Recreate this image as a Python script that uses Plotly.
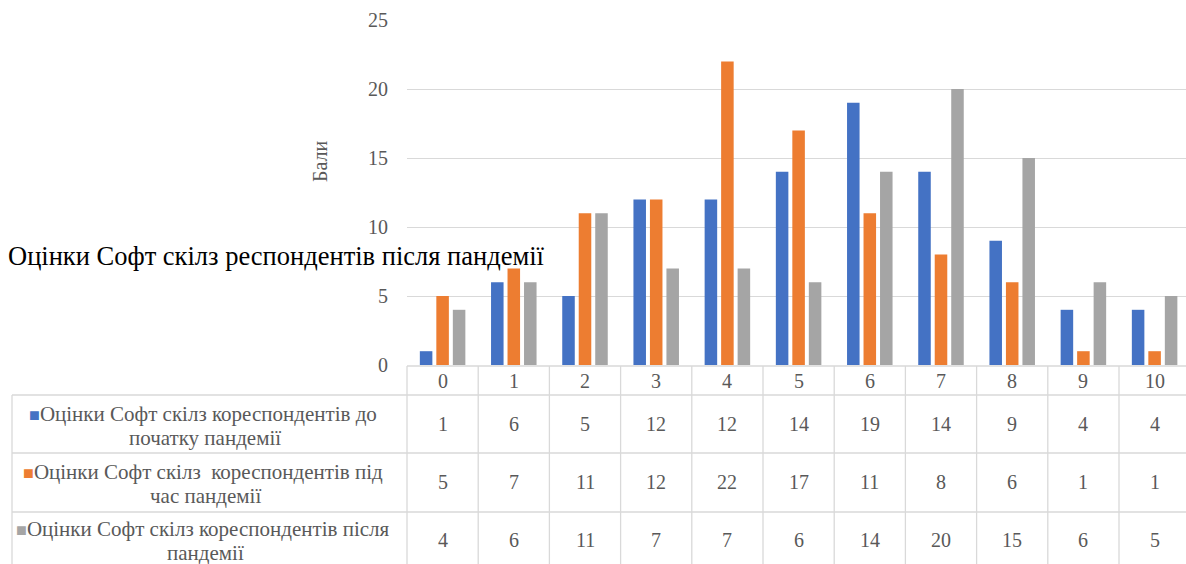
import plotly.graph_objects as go

categories = ["0", "1", "2", "3", "4", "5", "6", "7", "8", "9", "10"]
before = [1, 6, 5, 12, 12, 14, 19, 14, 9, 4, 4]
during = [5, 7, 11, 12, 22, 17, 11, 8, 6, 1, 1]
after = [4, 6, 11, 7, 7, 6, 14, 20, 15, 6, 5]

series_lines = [
    ("Оцінки Софт скілз кореспондентів до", "початку пандемії"),
    ("Оцінки Софт скілз  кореспондентів під", "час пандемії"),
    ("Оцінки Софт скілз кореспондентів після", "пандемії"),
]
series_values = [before, during, after]
colors = ["#4472C4", "#ED7D31", "#A5A5A5"]
y_ticks = [0, 5, 10, 15, 20, 25]
title_text = "Оцінки Софт скілз респондентів після пандемії"
y_title = "Бали"

W, H = 1186, 564
L, T, B = 407, 20, 199
plot_top, plot_bot = T, H - B
col_w = 71.2
x_lo = -0.5
x_hi = x_lo + (W - L) / col_w
FONT = "Liberation Serif"
GRAY = "#595959"
LINE = "#D9D9D9"

def py(ypx):
    return (plot_bot - ypx) / (plot_bot - plot_top)

def pxx(xpx):
    return (xpx - L) / (W - L)

def cat_paper(c):
    return (c - x_lo) / (x_hi - x_lo)

fig = go.Figure()
xs = list(range(len(categories)))
for (l1, l2), vals, col in zip(series_lines, series_values, colors):
    fig.add_trace(go.Bar(x=xs, y=vals, name=l1 + " " + l2, marker=dict(color=col, line=dict(width=0))))

shapes = []
shapes.append(dict(type="line", xref="paper", yref="paper", x0=0, x1=1, y0=py(366), y1=py(366), line=dict(color=LINE, width=1.3)))
for ypx in [395, 453, 512]:
    shapes.append(dict(type="line", xref="paper", yref="paper", x0=pxx(12), x1=1, y0=py(ypx), y1=py(ypx), line=dict(color=LINE, width=1.3)))
shapes.append(dict(type="line", xref="paper", yref="paper", x0=pxx(12), x1=pxx(12), y0=py(395), y1=py(H + 5), line=dict(color=LINE, width=1.3)))
for i in range(len(categories) + 1):
    xp = cat_paper(i - 0.5)
    if xp > 1:
        continue
    shapes.append(dict(type="line", xref="paper", yref="paper", x0=xp, x1=xp, y0=py(366), y1=py(H + 5), line=dict(color=LINE, width=1.3)))

annotations = []
for i, c in enumerate(categories):
    annotations.append(dict(x=i, y=py(381), xref="x", yref="paper", text=c, showarrow=False,
                            font=dict(family=FONT, size=20, color=GRAY), xanchor="center", yanchor="middle"))
row_centers = [424, 482, 540]
line_centers = [(414, 438), (472, 496), (529, 553)]
for r, ((l1, l2), vals, col) in enumerate(zip(series_lines, series_values, colors)):
    for i, v in enumerate(vals):
        annotations.append(dict(x=i, y=py(row_centers[r]), xref="x", yref="paper", text=str(v), showarrow=False,
                                font=dict(family=FONT, size=20, color=GRAY), xanchor="center", yanchor="middle"))
    a, b = line_centers[r]
    annotations.append(dict(x=pxx(203), y=py(a), xref="paper", yref="paper", borderpad=0,
                            text=f'<span style="color:{col};font-size:18px">■</span>' + l1, showarrow=False,
                            font=dict(family=FONT, size=21, color=GRAY), xanchor="center", yanchor="middle"))
    annotations.append(dict(x=pxx(205), y=py(b), xref="paper", yref="paper", text=l2, showarrow=False, borderpad=0,
                            font=dict(family=FONT, size=21, color=GRAY), xanchor="center", yanchor="middle"))

annotations.append(dict(x=pxx(320), y=py(161), xref="paper", yref="paper", text=y_title, textangle=-90, showarrow=False,
                        font=dict(family=FONT, size=20, color=GRAY), xanchor="center", yanchor="middle"))
annotations.append(dict(x=pxx(6), y=py(256), xref="paper", yref="paper", text=title_text, showarrow=False,
                        font=dict(family=FONT, size=26.5, color="#000000"), xanchor="left", yanchor="middle"))

fig.update_layout(
    width=W, height=H,
    margin=dict(l=L, r=0, t=T, b=B, pad=0),
    paper_bgcolor="white", plot_bgcolor="white",
    barmode="group", bargap=0.305, bargroupgap=0.24,
    showlegend=False,
    xaxis=dict(range=[x_lo, x_hi], showticklabels=False, showgrid=False, zeroline=False, showline=False, ticks=""),
    yaxis=dict(range=[0, 25], tickvals=y_ticks, showgrid=True, gridcolor=LINE, gridwidth=1.3, zeroline=False,
               showline=False, ticks="", ticklabelstandoff=18,
               tickfont=dict(family=FONT, size=20, color=GRAY)),
    shapes=shapes, annotations=annotations,
)

fig.write_html("out.html")
